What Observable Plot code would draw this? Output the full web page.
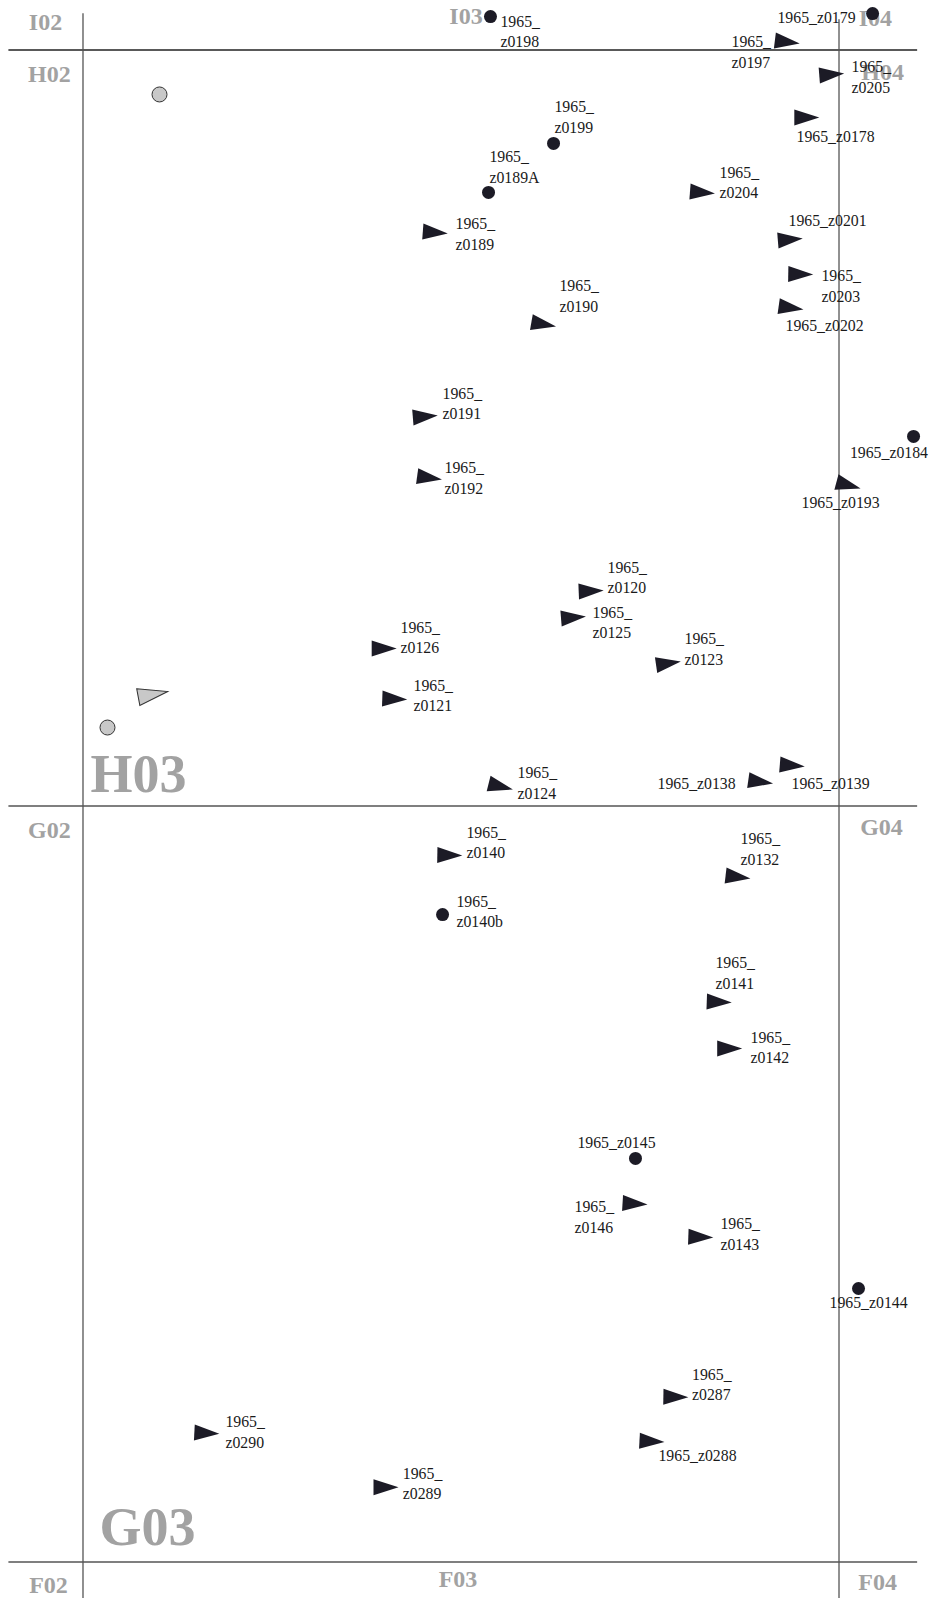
<!DOCTYPE html>
<html><head><meta charset="utf-8">
<script src="https://cdn.jsdelivr.net/npm/d3@7"></script>
<script src="https://cdn.jsdelivr.net/npm/@observablehq/plot@0.6"></script>
<style>html,body{margin:0;padding:0;background:#fff;} #chart svg{display:block;}</style>
</head><body><div id="chart"></div>
<script>
// Local grid coordinates in metres (each square 5 m). East = x, North = y.
// Oriented finds (triangles); orientation in degrees clockwise from east
const triIds = ["1965_z0197","1965_z0205","1965_z0178","1965_z0204","1965_z0201","1965_z0203","1965_z0202","1965_z0193","1965_z0189","1965_z0190","1965_z0191","1965_z0192","1965_z0120","1965_z0125","1965_z0126","1965_z0123","1965_z0121","1965_z0124","1965_z0138","1965_z0139","1965_z0140","1965_z0132","1965_z0141","1965_z0142","1965_z0146","1965_z0143","1965_z0290","1965_z0289","1965_z0287","1965_z0288"];
const triX = [4.658,4.952,4.787,4.097,4.678,4.747,4.683,5.063,2.330,3.047,2.264,2.292,3.361,3.244,1.992,3.872,2.062,2.763,4.482,4.691,2.426,4.332,4.208,4.277,3.651,4.086,0.819,2.004,3.921,3.763];
const triY = [10.053,9.838,9.554,9.058,8.747,8.517,8.295,7.121,8.793,8.186,7.576,7.171,6.422,6.247,6.042,5.944,5.708,5.129,5.160,5.268,4.674,4.530,3.704,3.396,2.369,2.149,0.852,0.495,1.091,0.798];
const triAngle = [7,-4.5,0,4.4,-4.7,1,8,15,4.3,10,-4.7,7.7,-2.3,-4.8,0,-8.3,2,14,8,4.7,1,7,2,0,3.4,2,3,0,1,3];
const triLabelX = [4.289,5.083,4.719,4.210,4.666,4.884,4.646,4.752,2.464,3.151,2.378,2.391,3.469,3.370,2.100,3.978,2.186,2.874,3.800,4.686,2.536,4.349,4.183,4.415,3.251,4.216,0.942,2.115,4.028,3.806];
const triLabelY = [9.980,9.815,9.421,9.117,8.866,8.433,8.171,7.001,8.776,8.366,7.655,7.163,6.505,6.207,6.108,6.032,5.724,5.146,5.142,5.142,4.752,4.709,3.889,3.396,2.275,2.163,0.853,0.515,1.169,0.700];
const triWrap = [true,true,false,true,false,true,false,false,true,true,true,true,true,true,true,true,true,true,false,false,true,true,true,true,true,true,true,true,true,false];

// Point finds (black dots)
const dotIds = ["1965_z0198","1965_z0179","1965_z0199","1965_z0189A","1965_z0184","1965_z0140b","1965_z0145","1965_z0144"];
const dotX = [2.695,5.222,3.112,2.682,5.493,2.378,3.654,5.129];
const dotY = [10.221,10.241,9.382,9.058,7.444,4.282,2.669,1.809];
const dotLabelX = [2.761,4.593,3.118,2.688,5.072,2.470,3.270,4.937];
const dotLabelY = [10.116,10.208,9.550,9.220,7.331,4.296,2.768,1.710];
const dotWrap = [true,false,true,true,false,true,false,false];

// Unnumbered finds (grey)
const grayDotX = [0.506,0.162];
const grayDotY = [9.706,5.519];
const grayTriX = [0.463];
const grayTriY = [5.739];
const grayTriAngle = [-10.7];

// Grid squares
const squareNames = ["I02","I03","I04","H02","H03","H04","G02","G03","G04","F02","F03","F04"];
const squareLabelX = [-0.248,2.533,5.241,-0.222,0.367,5.288,-0.222,0.427,5.281,-0.228,2.480,5.255];
const squareLabelY = [10.182,10.221,10.208,9.838,5.208,9.851,4.838,0.225,4.858,-0.155,-0.116,-0.136];
const squareBig = [false,false,false,false,true,false,false,true,false,false,false,false];
const gridEast = [0,5];
const gridNorth = [0,5,10];

const tri = triIds.map((id,i)=>({id, x:triX[i], y:triY[i], a:triAngle[i], lx:triLabelX[i], ly:triLabelY[i], wrap:triWrap[i]}));
const dots = dotIds.map((id,i)=>({id, x:dotX[i], y:dotY[i], lx:dotLabelX[i], ly:dotLabelY[i], wrap:dotWrap[i]}));
const labels = tri.concat(dots);
const grayDots = grayDotX.map((x,i)=>({x, y:grayDotY[i]}));
const grayTris = grayTriX.map((x,i)=>({x, y:grayTriY[i], a:grayTriAngle[i]}));
const squares = squareNames.map((name,i)=>({name, x:squareLabelX[i], y:squareLabelY[i], big:squareBig[i]}));

const arrow = {draw(ctx){ ctx.moveTo(-12.5,-8); ctx.lineTo(12.5,0); ctx.lineTo(-12.5,8); ctx.closePath(); }};
const arrowLarge = {draw(ctx){ ctx.moveTo(-15,-8.5); ctx.lineTo(15,0); ctx.lineTo(-15,8.5); ctx.closePath(); }};

const ink = "#1c1b26";
const chart = Plot.plot({
  width: 929, height: 1598, margin: 0,
  x: {domain: [-0.5456, 5.5985], axis: null},
  y: {domain: [-0.2414, 10.3274], axis: null},
  style: {background: "#fff"},
  marks: [
    Plot.ruleY(gridNorth.filter(d=>d===10), {y: d=>d, x1: ()=>-0.49, x2: ()=>5.52, stroke: "#222", strokeWidth: 1.3}),
    Plot.ruleY(gridNorth.filter(d=>d!==10), {y: d=>d, x1: ()=>-0.49, x2: ()=>5.52, stroke: "#555", strokeWidth: 1.5}),
    Plot.ruleX(gridEast, {x: d=>d, y1: ()=>-0.25, y2: d=> d===0 ? 10.24 : 10.2, stroke: "#555", strokeWidth: 1.3}),
    Plot.text(squares, {x: "x", y: "y", text: "name", textAnchor: "middle", lineAnchor: "middle",
      fontFamily: "Liberation Serif", fontWeight: "bold", fontSize: d=> d.big ? 54 : 24, fill: "#a2a2a2"}),
    Plot.dot(grayDots, {x: "x", y: "y", r: 7.5, fill: "#c8c8c8", stroke: "#333", strokeWidth: 1}),
    Plot.dot(grayTris, {x: "x", y: "y", symbol: arrowLarge, rotate: "a", r: 6, fill: "#c8c8c8", stroke: "#333", strokeWidth: 1}),
    Plot.dot(tri, {x: "x", y: "y", symbol: arrow, rotate: "a", r: 6, fill: ink, stroke: "none"}),
    Plot.dot(dots, {x: "x", y: "y", r: 6.5, fill: ink, stroke: "none"}),
    Plot.text(labels, {x: "lx", y: "ly", dy: -2, text: d => d.wrap ? d.id.replace("_", "_\n") : d.id,
      textAnchor: "start", lineAnchor: "middle", lineHeight: 1.28,
      fontFamily: "Liberation Serif", fontSize: 15.8, fill: "#1a1a1a"})
  ]
});
document.getElementById("chart").appendChild(chart);
</script>
</body></html>
